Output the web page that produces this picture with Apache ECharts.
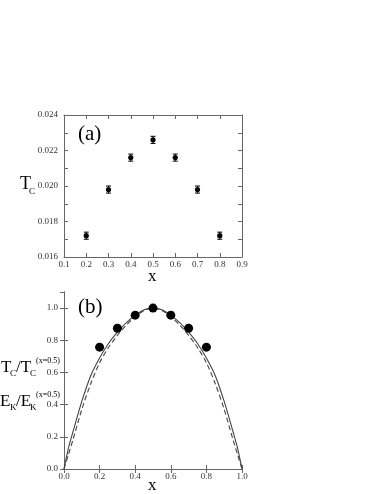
<!DOCTYPE html>
<html>
<head>
<meta charset="utf-8">
<script src="https://cdn.jsdelivr.net/npm/echarts@6/dist/echarts.min.js"></script>
<style>
  html, body { margin: 0; padding: 0; background: #fff; }
  #main { width: 382px; height: 494px; }
</style>
</head>
<body>
<div id="main"></div>
<script>
// panel (a): Tc vs x with error bars
var xs = [0.2, 0.3, 0.4, 0.5, 0.6, 0.7, 0.8];
var tc = [0.0172, 0.0198, 0.0216, 0.0226, 0.0216, 0.0198, 0.0172];
var tcErr = [0.0002, 0.0002, 0.0002, 0.0002, 0.0002, 0.0002, 0.0002];

// panel (b): normalised Tc (dots) and two curves
var tcNorm = [0.757, 0.875, 0.956, 1.0, 0.956, 0.875, 0.757];
var curveX = [0, 0.025, 0.05, 0.1, 0.15, 0.2, 0.25, 0.3, 0.35, 0.4, 0.45, 0.5,
              0.55, 0.6, 0.65, 0.7, 0.75, 0.8, 0.85, 0.9, 0.95, 0.975, 1.0];
var solidY = [0, 0.13, 0.23, 0.42, 0.58, 0.69, 0.78, 0.85, 0.91, 0.955, 0.99, 1.0,
              0.99, 0.955, 0.91, 0.85, 0.78, 0.69, 0.58, 0.42, 0.23, 0.13, 0];
var dashY = [0, 0.09, 0.18, 0.37, 0.53, 0.66, 0.755, 0.83, 0.895, 0.945, 0.985, 1.0,
             0.985, 0.945, 0.895, 0.83, 0.755, 0.66, 0.53, 0.37, 0.18, 0.09, 0];

var serif = '"Liberation Serif", "DejaVu Serif", serif';
var axisCol = '#666';

function pairs(a, b) {
  return a.map(function (v, i) { return [v, b[i]]; });
}

function baseAxis(extra) {
  var ax = {
    axisLine: { lineStyle: { color: axisCol, width: 1 } },
    axisTick: { inside: true, length: 4, lineStyle: { color: axisCol } },
    axisLabel: { fontFamily: serif, fontSize: 9, color: '#333', margin: 4 },
    splitLine: { show: false }
  };
  return Object.assign(ax, extra);
}

var chart = echarts.init(document.getElementById('main'));

var option = {
  animation: false,
  grid: [
    { left: 64, top: 115, width: 178, height: 142 },
    { left: 64, top: 292, width: 178, height: 177 }
  ],
  xAxis: [
    baseAxis({ gridIndex: 0, type: 'value', min: 0.1, max: 0.9, interval: 0.1,
      axisLabel: { fontFamily: serif, fontSize: 9, color: '#333', margin: 3,
        formatter: function (v) { return v.toFixed(1); } } }),
    baseAxis({ gridIndex: 0, type: 'value', position: 'top', min: 0.1, max: 0.9, interval: 0.1,
      axisLabel: { show: false } }),
    baseAxis({ gridIndex: 1, type: 'value', min: 0, max: 1, interval: 0.2,
      axisLabel: { fontFamily: serif, fontSize: 9, color: '#333', margin: 3,
        formatter: function (v) { return v.toFixed(1); } } }),
    baseAxis({ gridIndex: 1, type: 'value', position: 'top', min: 0, max: 1, interval: 0.2,
      axisLabel: { show: false } })
  ],
  yAxis: [
    baseAxis({ gridIndex: 0, type: 'value', min: 0.016, max: 0.024, interval: 0.001,
      axisLabel: { fontFamily: serif, fontSize: 9, color: '#333', margin: 6,
        formatter: function (v) {
          return Math.round(v * 1000) % 2 === 0 ? v.toFixed(3) : '';
        } } }),
    baseAxis({ gridIndex: 0, type: 'value', position: 'right', min: 0.016, max: 0.024, interval: 0.001,
      axisLabel: { show: false } }),
    baseAxis({ gridIndex: 1, type: 'value', min: 0, max: 1.1, interval: 0.2,
      axisLabel: { fontFamily: serif, fontSize: 9, color: '#333', margin: 6, showMaxLabel: false,
        formatter: function (v) { return v > 1.05 ? '' : v.toFixed(1); } } }),
    baseAxis({ gridIndex: 1, type: 'value', position: 'right', min: 0, max: 1.1, interval: 0.2,
      axisLabel: { show: false } })
  ],
  series: [
    {
      type: 'custom',
      xAxisIndex: 0, yAxisIndex: 0,
      data: xs.map(function (x, i) { return [x, tc[i], tcErr[i]]; }),
      renderItem: function (params, api) {
        var x = api.value(0), y = api.value(1), e = api.value(2);
        var c = api.coord([x, y]);
        var hi = api.coord([x, y + e]);
        var lo = api.coord([x, y - e]);
        var st = { stroke: '#000', lineWidth: 1 };
        return {
          type: 'group',
          children: [
            { type: 'line', shape: { x1: c[0], y1: hi[1], x2: c[0], y2: lo[1] }, style: st },
            { type: 'line', shape: { x1: c[0] - 2.5, y1: hi[1], x2: c[0] + 2.5, y2: hi[1] }, style: st },
            { type: 'line', shape: { x1: c[0] - 2.5, y1: lo[1], x2: c[0] + 2.5, y2: lo[1] }, style: st },
            { type: 'circle', shape: { cx: c[0], cy: c[1], r: 2.6 }, style: { fill: '#000' } }
          ]
        };
      }
    },
    {
      type: 'line',
      xAxisIndex: 2, yAxisIndex: 2,
      data: pairs(curveX, solidY),
      smooth: 0.3,
      showSymbol: false,
      lineStyle: { color: '#444', width: 1.1 }
    },
    {
      type: 'line',
      xAxisIndex: 2, yAxisIndex: 2,
      data: pairs(curveX, dashY),
      smooth: 0.3,
      showSymbol: false,
      lineStyle: { color: '#444', width: 1.1, type: [5, 3] }
    },
    {
      type: 'scatter',
      xAxisIndex: 2, yAxisIndex: 2,
      data: pairs(xs, tcNorm),
      symbol: 'circle',
      symbolSize: 9,
      itemStyle: { color: '#000', opacity: 1 },
      z: 5
    }
  ],
  graphic: [
    { type: 'text', left: 78, top: 124, style: { text: '(a)', font: '21px ' + serif, fill: '#000' } },
    { type: 'text', left: 78, top: 297, style: { text: '(b)', font: '21px ' + serif, fill: '#000' } },
    // axis names
    { type: 'text', left: 148, top: 268, style: { text: 'x', font: '17px ' + serif, fill: '#000' } },
    { type: 'text', left: 148, top: 477, style: { text: 'x', font: '17px ' + serif, fill: '#000' } },
    // T_C (top)
    { type: 'text', left: 20, top: 175, style: { text: 'T', font: '18px ' + serif, fill: '#000' } },
    { type: 'text', left: 29, top: 187, style: { text: 'C', font: '9px ' + serif, fill: '#000' } },
    // T_C / T_C^(x=0.5)
    { type: 'text', left: 1, top: 359, style: { text: 'T', font: '17px ' + serif, fill: '#000' } },
    { type: 'text', left: 10, top: 369, style: { text: 'C', font: '9px ' + serif, fill: '#000' } },
    { type: 'text', left: 16, top: 359, style: { text: '/T', font: '17px ' + serif, fill: '#000' } },
    { type: 'text', left: 30, top: 369, style: { text: 'C', font: '9px ' + serif, fill: '#000' } },
    { type: 'text', left: 36, top: 357, style: { text: '(x=0.5)', font: '8px ' + serif, fill: '#000' } },
    // E_K / E_K^(x=0.5)
    { type: 'text', left: 0, top: 393, style: { text: 'E', font: '17px ' + serif, fill: '#000' } },
    { type: 'text', left: 10, top: 403, style: { text: 'K', font: '9px ' + serif, fill: '#000' } },
    { type: 'text', left: 16, top: 393, style: { text: '/E', font: '17px ' + serif, fill: '#000' } },
    { type: 'text', left: 30, top: 403, style: { text: 'K', font: '9px ' + serif, fill: '#000' } },
    { type: 'text', left: 36, top: 391, style: { text: '(x=0.5)', font: '8px ' + serif, fill: '#000' } }
  ]
};

chart.setOption(option);
</script>
</body>
</html>
